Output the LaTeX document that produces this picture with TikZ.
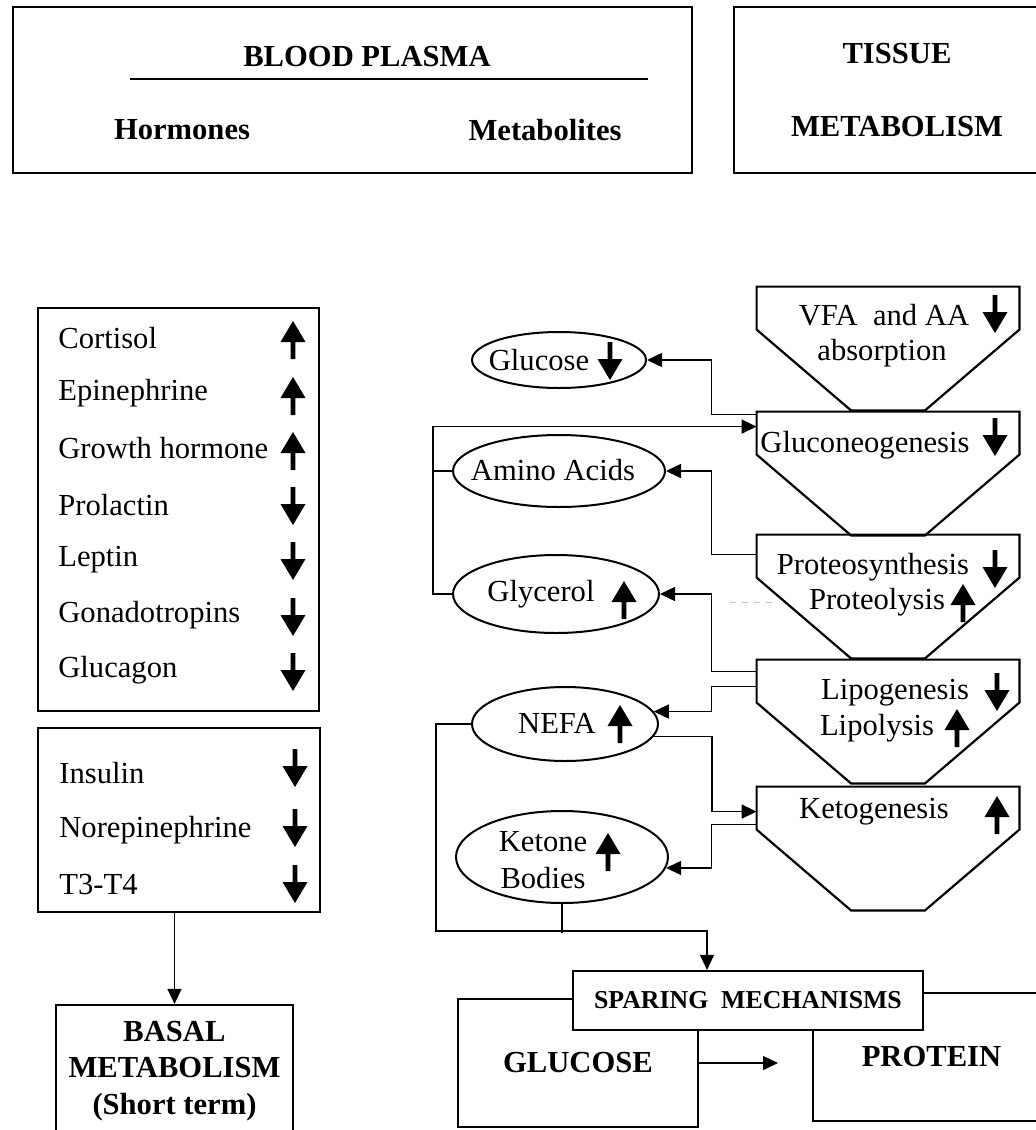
\documentclass[tikz,border=0pt]{standalone}
\usepackage{fontspec}
\setmainfont{Liberation Serif}
\usetikzlibrary{arrows.meta, shapes, positioning, calc}

% bold up / down marks used after the labels
\tikzset{
    upar/.pic={\fill (0,-19) -- (12.5,2) -- (2.3,2) -- (2.3,19) -- (-2.3,19) -- (-2.3,2) -- (-12.5,2) -- cycle;},
    dnar/.pic={\fill (0,19) -- (12.5,-2) -- (2.3,-2) -- (2.3,-19) -- (-2.3,-19) -- (-2.3,-2) -- (-12.5,-2) -- cycle;}
}

% outline of a tissue step: box on top, funnel below
\newcommand{\funneloutline}[1]{%
    \draw[line width=1.1pt] (#1.north west) -- (#1.north east) -- ++(0,43)
        -- ($(#1.south)+(37,0)$) -- ($(#1.south)+(-37,0)$) -- ($(#1.north west)+(0,43)$) -- cycle;}

\begin{document}
\begin{tikzpicture}[
        x=0.5pt, y=-0.5pt, % pixel grid, y going down
        font=\fontsize{15.3}{18.3}\selectfont,
        box/.style={rectangle, draw, line width=1.1pt, inner sep=0pt, align=center},
        hdr/.style={font=\fontsize{15.3}{18.3}\selectfont\bfseries},
        oval/.style={ellipse, draw, line width=1pt, inner sep=0pt},
        funnel/.style={rectangle, inner sep=0pt, minimum width=131pt, minimum height=61.5pt},
        row/.style={anchor=west, inner sep=0pt},
        lbl/.style={inner sep=0pt},
        arrow/.style={-{Triangle[length=7.5pt, width=7pt]}, line width=0.75pt},
        link/.style={line width=0.75pt}
    ]
    \useasboundingbox (0,0) rectangle (1036,1130);
    \clip (0,0) rectangle (1036,1130);

    % Header boxes
    \node[box, minimum width=339.5pt, minimum height=83pt] (blood) at (352.5,90) {};
    \node[hdr] (blood_t) at (367,57) {BLOOD PLASMA};
    \draw[line width=1pt] (130,79) -- (648,79);
    \node[hdr] (horm_t) at (182,130) {Hormones};
    \node[hdr] (metab_t) at (545,130) {Metabolites};
    \node[box, hdr, minimum width=163pt, minimum height=83pt] (tissue) at (897,90) {TISSUE\\[18pt]METABOLISM};

    % Hormones - first list
    \node[box, minimum width=140.5pt, minimum height=201.5pt] (horm_a) at (178.5,509.5) {};
    \node[row] (cortisol) at (58,338) {Cortisol};
    \pic at (293,340) {upar};
    \node[row] (epineph) at (58,393) {Epinephrine};
    \pic at (293,396) {upar};
    \node[row] (growth) at (58,448) {Growth hormone};
    \pic at (293,451) {upar};
    \node[row] (prolactin) at (58,505) {Prolactin};
    \pic at (293,506) {dnar};
    \node[row] (leptin) at (58,560) {Leptin};
    \pic at (293,561) {dnar};
    \node[row] (gonado) at (58,615) {Gonadotropins};
    \pic at (293,617) {dnar};
    \node[row] (glucagon) at (58,670) {Glucagon};
    \pic at (293,672) {dnar};

    % Hormones - second list
    \node[box, minimum width=141pt, minimum height=92pt] (horm_b) at (179,820) {};
    \node[row] (insulin) at (59,773) {Insulin};
    \pic at (295,768) {dnar};
    \node[row] (norepi) at (59,830) {Norepinephrine};
    \pic at (295,828) {dnar};
    \node[row] (tthree) at (59,885) {T3-T4};
    \pic at (295,884) {dnar};

    \node[box, hdr, minimum width=118.5pt, minimum height=66pt] (basal) at (174.5,1071) {BASAL\\METABOLISM\\(Short term)};
    \draw[arrow] (horm_b.south -| basal.north) -- (basal.north);

    % Tissue steps
    \node[funnel] (vfa) at (888,348.5) {};
    \node[funnel] (gluconeo) at (888,473.5) {};
    \node[funnel] (proteo) at (888,596.5) {};
    \node[funnel] (lipo) at (888,721.5) {};
    \node[funnel] (keto) at (888,848.5) {};
    \funneloutline{vfa}
    \funneloutline{gluconeo}
    \funneloutline{proteo}
    \funneloutline{lipo}
    \funneloutline{keto}

    \node[lbl] (vfa_t) at (884,315) {VFA\ \ and AA};
    \pic at (995,314) {dnar};
    \node[lbl] (vfa_t2) at (882,353) {absorption};
    \node[lbl] (gluconeo_t) at (865,445) {Gluconeogenesis};
    \pic at (995,437) {dnar};
    \node[lbl] (proteo_t) at (873,567) {Proteosynthesis};
    \pic at (995,569) {dnar};
    \node[lbl] (proteo_t2) at (877,602) {Proteolysis};
    \pic at (963,603) {upar};
    \node[lbl] (lipo_t) at (895,693) {Lipogenesis};
    \pic at (997,692) {dnar};
    \node[lbl] (lipo_t2) at (877,728) {Lipolysis};
    \pic at (957,728) {upar};
    \node[lbl] (keto_t) at (874,812) {Ketogenesis};
    \pic at (997,815) {upar};

    % Metabolites
    \node[oval, minimum width=87pt, minimum height=28pt] (glucose) at (559,360) {};
    \node[lbl] (glucose_t) at (539,360) {Glucose};
    \pic at (610,361) {dnar};
    \node[oval, minimum width=106pt, minimum height=36pt] (amino) at (559,471) {};
    \node[lbl] (amino_t) at (553,470) {Amino Acids};
    \node[oval, minimum width=103pt, minimum height=39pt] (glycerol) at (556,594) {};
    \node[lbl] (glycerol_t) at (541,594) {Glycerol};
    \pic at (624,600) {upar};
    \node[oval, minimum width=93pt, minimum height=37pt] (nefa) at (565,724) {};
    \node[lbl] (nefa_t) at (557,723) {NEFA};
    \pic at (620,724) {upar};
    \node[oval, minimum width=106pt, minimum height=46pt] (ketone) at (562,857) {};
    \node[lbl, align=center] (ketone_t) at (543,860) {Ketone\\Bodies};
    \pic at (608,852) {upar};

    % Sparing mechanisms
    \node[box, hdr, minimum width=120pt, minimum height=64pt] (gluc_box) at (578,1063) {GLUCOSE};
    \node[box, hdr, minimum width=118.5pt, minimum height=64pt] (prot_box) at (931.5,1057) {PROTEIN};
    \node[box, fill=white, font=\fontsize{12.9}{15}\selectfont\bfseries, minimum width=175pt, minimum height=29.5pt] (spare) at (748,1000.5) {SPARING\ \ MECHANISMS};
    \coordinate (gap) at (778,1063);
    \draw[arrow] (gluc_box.east) -- (gap);

    % Connections
    \coordinate (bus) at (712,0); % vertical run left of the tissue steps
    \draw[arrow] ($(gluconeo.north west)+(0,3)$) -- ++(-45,0) |- (glucose.east);
    \draw[arrow] (glycerol.west) -- ++(-19,0) |- ($(gluconeo.north west)+(0,15)$);
    \draw[link] (amino.west) -- ++(-19,0);
    \draw[arrow] ($(proteo.north west)+(0,20)$) -- ++(-45,0) |- (amino.east);
    \draw[arrow] ($(lipo.north west)+(0,12)$) -- ++(-45,0) |- (glycerol.east);
    \draw[arrow] ($(lipo.north west)+(0,27)$) -- ++(-45,0) |- (nefa.8);
    \draw[arrow] (nefa.-8) -- (nefa.-8 -| bus) |- ($(keto.north west)+(0,25)$);
    \draw[arrow] ($(keto.north west)+(0,38)$) -- ++(-45,0) |- (ketone.-6);
    \draw[arrow] (nefa.west) -- ++(-35,0) |- ($(spare.north)+(-41,-39)$) -- ($(spare.north)+(-41,0)$);
    \draw[link] (ketone.south) -- ++(0,29);
    \draw[gray!50, dashed, line width=0.5pt] (730,602) -- (776,602);

\end{tikzpicture}
\end{document}
